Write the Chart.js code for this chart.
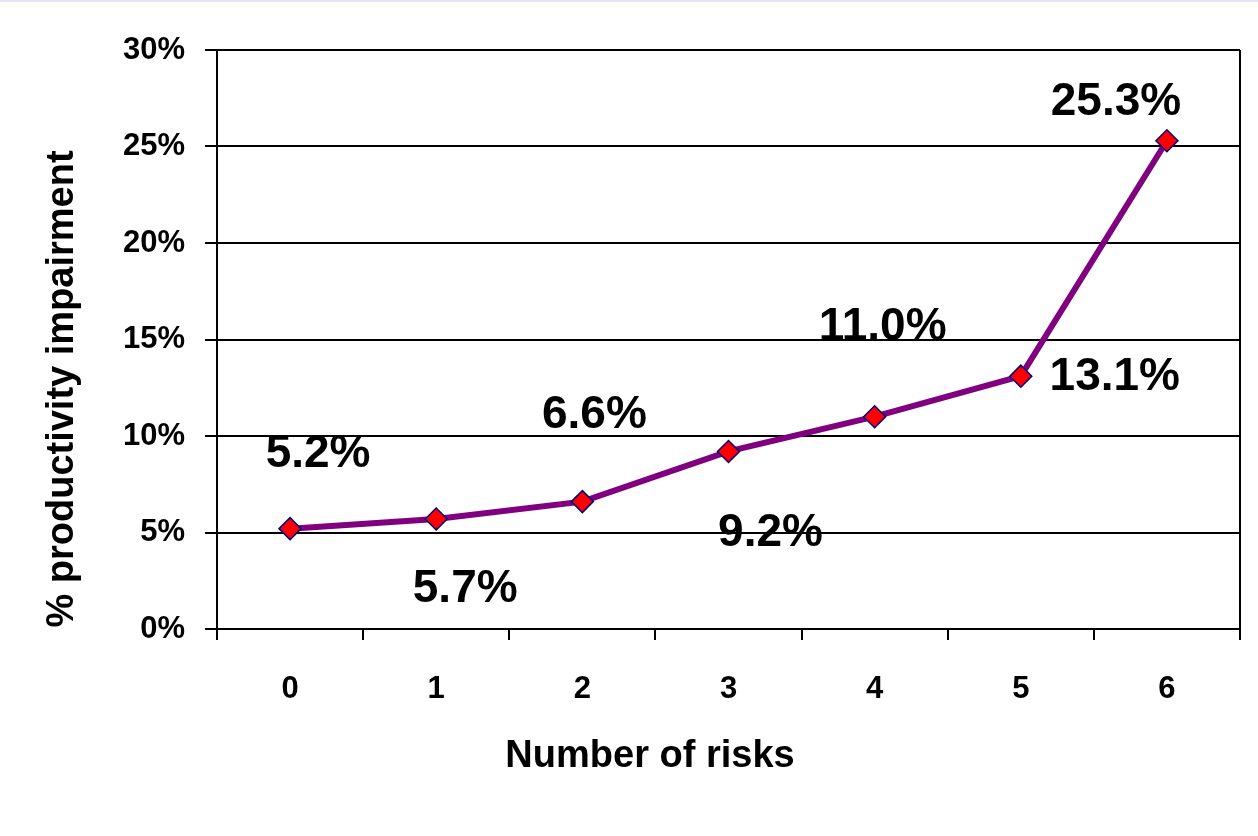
<!DOCTYPE html>
<html>
<head>
<meta charset="utf-8">
<title>Productivity impairment by number of risks</title>
<script src="https://cdn.jsdelivr.net/npm/chart.js@4.4.1/dist/chart.umd.min.js"></script>
<style>
  html, body { margin: 0; padding: 0; background: #ffffff; }
  #wrap { position: relative; width: 1258px; height: 836px; }
  #topline { position: absolute; left: 0; top: 0; width: 1258px; height: 2px; background: #e4e4f4; }
</style>
</head>
<body>
<div id="wrap">
  <canvas id="risksChart" width="1258" height="836"></canvas>
  <div id="topline"></div>
</div>
<script>
// number of health risks vs. share of productivity impaired
const riskCounts = ["0", "1", "2", "3", "4", "5", "6"];
const impairmentPct = [5.2, 5.7, 6.6, 9.2, 11.0, 13.1, 25.3];
const yTicks = [0, 5, 10, 15, 20, 25, 30];

const FONT = "'Liberation Sans', Arial, Helvetica, sans-serif";

// where each value label sits relative to its marker (dx, dy in px)
const labelOffsets = [[28, -74], [29, 70], [12, -86], [42, 82], [8, -89], [94, 1], [-51, -38]];

const valueLabels = {
    id: "valueLabels",
    afterDatasetsDraw(chart) {
        const ctx = chart.ctx;
        const meta = chart.getDatasetMeta(0);
        ctx.save();
        ctx.fillStyle = "#000000";
        ctx.font = "bold 46px " + FONT;
        ctx.textAlign = "center";
        ctx.textBaseline = "middle";
        meta.data.forEach((pt, i) => {
            const off = labelOffsets[i];
            ctx.fillText(impairmentPct[i].toFixed(1) + "%", pt.x + off[0], pt.y + off[1]);
        });
        ctx.restore();
    }
};

const axisTitles = {
    id: "axisTitles",
    afterDraw(chart) {
        const ctx = chart.ctx;
        ctx.save();
        ctx.fillStyle = "#000000";
        ctx.font = "bold 38px " + FONT;
        ctx.textAlign = "center";
        ctx.textBaseline = "alphabetic";
        ctx.fillText("Number of risks", 650, 767);
        ctx.translate(73, 389);
        ctx.rotate(-Math.PI / 2);
        ctx.fillText("% productivity impairment", 0, 0);
        ctx.restore();
    }
};

new Chart(document.getElementById("risksChart"), {
    type: "line",
    data: {
        labels: riskCounts,
        datasets: [
            {
                label: "% productivity impairment",
                data: impairmentPct,
                borderColor: "#800080",
                borderWidth: 6,
                tension: 0,
                fill: false,
                pointStyle: "rectRot",
                pointRadius: 11,
                pointHoverRadius: 11,
                pointBackgroundColor: "#ff0000",
                pointBorderColor: "#000080",
                pointBorderWidth: 1.5
            }
        ]
    },
    options: {
        responsive: false,
        animation: false,
        layout: { padding: { top: 50, right: 18, left: 0, bottom: 0 } },
        plugins: {
            legend: { display: false },
            tooltip: { enabled: false }
        },
        scales: {
            x: {
                type: "category",
                offset: true,
                afterFit(scale) { scale.height = 207; },
                border: { display: true, color: "#000000", width: 2 },
                grid: {
                    offset: true,
                    drawOnChartArea: true,
                    // only the closing line on the right edge shows inside the plot
                    color: c => c.type === "scale" ? "#000000" : "rgba(0,0,0,0)",
                    tickColor: "#000000",
                    lineWidth: 2,
                    tickWidth: 2,
                    tickLength: 11
                },
                ticks: {
                    color: "#000000",
                    padding: 31,
                    font: { family: FONT, size: 31, weight: "bold" }
                }
            },
            y: {
                min: 0,
                max: 30,
                afterFit(scale) { scale.width = 217; },
                afterBuildTicks(scale) { scale.ticks = yTicks.map(v => ({ value: v })); },
                border: { display: true, color: "#000000", width: 2 },
                grid: {
                    color: "#000000",
                    lineWidth: 2,
                    tickLength: 12,
                    tickWidth: 2
                },
                ticks: {
                    color: "#000000",
                    padding: 20,
                    font: { family: FONT, size: 31, weight: "bold" },
                    callback: v => v + "%"
                }
            }
        }
    },
    plugins: [valueLabels, axisTitles]
});
</script>
</body>
</html>
